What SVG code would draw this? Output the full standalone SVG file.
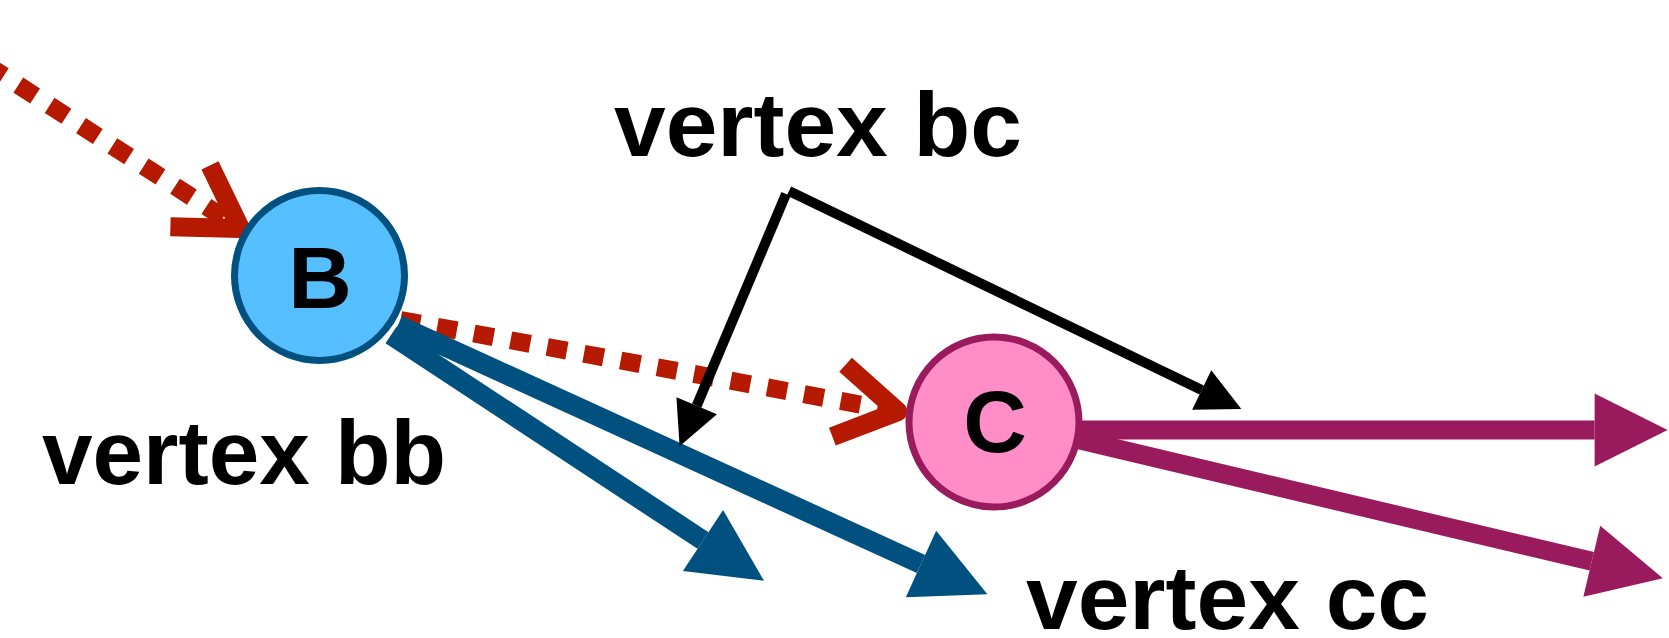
<svg xmlns="http://www.w3.org/2000/svg" width="1669" height="638" viewBox="0 0 1669 638">
<style>
.lbl{font-family:"Liberation Sans",Arial,sans-serif;font-size:90px;font-weight:bold;fill:#000}
.nlbl{font-family:"Liberation Sans",Arial,sans-serif;font-size:88px;font-weight:bold;fill:#000;text-anchor:middle}
.red{fill:none;stroke:#B51A00;stroke-width:18;stroke-dasharray:20 17.3}
.blue{fill:none;stroke:#005080;stroke-width:20}
.mag{fill:none;stroke:#9A1A5E;stroke-width:19}
.blk{fill:none;stroke:#000;stroke-width:10}
</style>
<defs>
<marker id="chev" markerUnits="userSpaceOnUse" orient="auto" refX="0" refY="0" markerWidth="1" markerHeight="1" overflow="visible">
<path d="M-60,-36.5 L0,0 L-60,36.5" fill="none" stroke="#B51A00" stroke-width="19" stroke-linejoin="round"/>
</marker>
<marker id="triBlue" markerUnits="userSpaceOnUse" orient="auto" refX="0" refY="0" markerWidth="1" markerHeight="1" overflow="visible">
<path d="M0,-36.5 L73,0 L0,36.5 Z" fill="#005080"/>
</marker>
<marker id="triMag" markerUnits="userSpaceOnUse" orient="auto" refX="0" refY="0" markerWidth="1" markerHeight="1" overflow="visible">
<path d="M0,-36.5 L73,0 L0,36.5 Z" fill="#9A1A5E"/>
</marker>
<marker id="triBlk" markerUnits="userSpaceOnUse" orient="auto" refX="0" refY="0" markerWidth="1" markerHeight="1" overflow="visible">
<path d="M0,-22 L44,0 L0,22 Z" fill="#000"/>
</marker>
</defs>
<g id="connectors">
<path class="red" d="M-30,54 L240.6,228.6" stroke-dashoffset="17.1" marker-end="url(#chev)"/>
<path class="red" d="M400.5,320 L898,411.5" marker-end="url(#chev)"/>
<path class="blue" d="M391,335 L703,540.5" marker-end="url(#triBlue)"/>
<path class="blue" d="M398,325 L921,564" marker-end="url(#triBlue)"/>
<path class="blk" d="M786,194 L696.7,405.8" marker-end="url(#triBlk)"/>
<path class="blk" d="M789,191 L1201.7,390" marker-end="url(#triBlk)"/>
<path class="mag" d="M1081,430 L1594.6,430" marker-end="url(#triMag)"/>
<path class="mag" d="M1080,440 L1591.8,561.3" marker-end="url(#triMag)"/>
</g>
<g id="node-B">
<circle cx="319.5" cy="275.5" r="85" fill="#55BFFF" stroke="#005080" stroke-width="7"/>
<text class="nlbl" x="320" y="308">B</text>
</g>
<g id="node-C">
<circle cx="994" cy="422" r="85" fill="#FF8DC7" stroke="#9A1A5E" stroke-width="7"/>
<text class="nlbl" x="995" y="452">C</text>
</g>
<g id="label-bc"><text class="lbl" x="614" y="156" textLength="408" lengthAdjust="spacingAndGlyphs">vertex bc</text></g>
<g id="label-bb"><text class="lbl" x="42" y="484" textLength="404" lengthAdjust="spacingAndGlyphs">vertex bb</text></g>
<g id="label-cc"><text class="lbl" x="1026" y="629" textLength="403" lengthAdjust="spacingAndGlyphs">vertex cc</text></g>
</svg>
